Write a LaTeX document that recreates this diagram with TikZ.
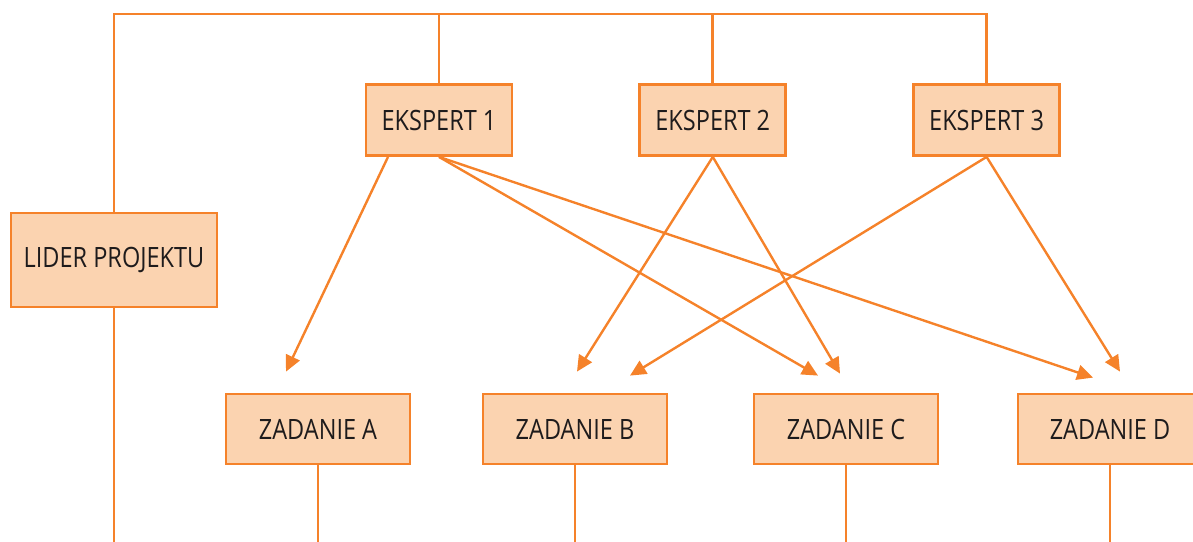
\documentclass[tikz,border=0pt]{standalone}
\usepackage{fontspec}
\setmainfont{Open Sans}[FakeStretch=0.84]
\usetikzlibrary{arrows.meta,positioning,calc}
\definecolor{edge}{HTML}{F5822A}
\definecolor{peach}{HTML}{FBD3B0}
\definecolor{ink}{HTML}{1E1B1C}
\tikzset{
  box/.style={draw=edge,fill=peach,line width=2.8pt,text=ink,inner sep=0pt,
    font=\fontsize{28}{32}\selectfont},
  expert/.style={box,minimum width=146pt,minimum height=71pt},
  task/.style={box,minimum width=184pt,minimum height=70pt},
  lead/.style={box,minimum width=206pt,minimum height=94pt},
  link/.style={draw=edge,line width=2.8pt},
  arrow/.style={-{Triangle[length=16pt,width=15pt]},draw=edge,line width=2.4pt}
}
\begin{document}
\begin{tikzpicture}[x=1pt,y=-1pt,node distance=0pt and 125pt]
  \useasboundingbox (0,0) rectangle (1193,541);
  % people
  \node[expert] (e1) at (439,120) {EKSPERT 1};
  \node[expert,right=of e1] (e2) {EKSPERT 2};
  \node[expert,right=of e2] (e3) {EKSPERT 3};
  \node[lead] (lead) at (114,260) {LIDER PROJEKTU};
  % tasks
  \node[task] (za) at (318,429) {ZADANIE A};
  \node[task] (zb) at (575,429) {ZADANIE B};
  \node[task] (zc) at (846,429) {ZADANIE C};
  \node[task] (zd) at (1110,429) {ZADANIE D};
  \coordinate (rail) at (0,14);
  \coordinate (floor) at (0,543);
  % top rail
  \draw[link] (lead.north) -- (lead.north |- rail) -- (e3.north |- rail) -- (e3.north);
  \draw[link] (e1.north) -- (e1.north |- rail);
  \draw[link] (e2.north) -- (e2.north |- rail);
  % lines to the bottom
  \foreach \n in {lead,za,zb,zc,zd}
    \draw[link] (\n.south) -- (\n.south |- floor);
  % assignments
  \draw[arrow] ($(e1.south)+(-51,0)$) -- ($(za.north)+(-32,-21)$);
  \draw[arrow] (e1.south) -- ($(zc.north)+(-28,-17)$);
  \draw[arrow] (e1.south) -- ($(zd.north)+(-17,-15)$);
  \draw[arrow] (e2.south) -- ($(zb.north)+(2,-21)$);
  \draw[arrow] (e2.south) -- ($(zc.north)+(-6,-19)$);
  \draw[arrow] (e3.south) -- ($(zb.north)+(55,-17)$);
  \draw[arrow] (e3.south) -- ($(zd.north)+(10,-21)$);
\end{tikzpicture}
\end{document}
